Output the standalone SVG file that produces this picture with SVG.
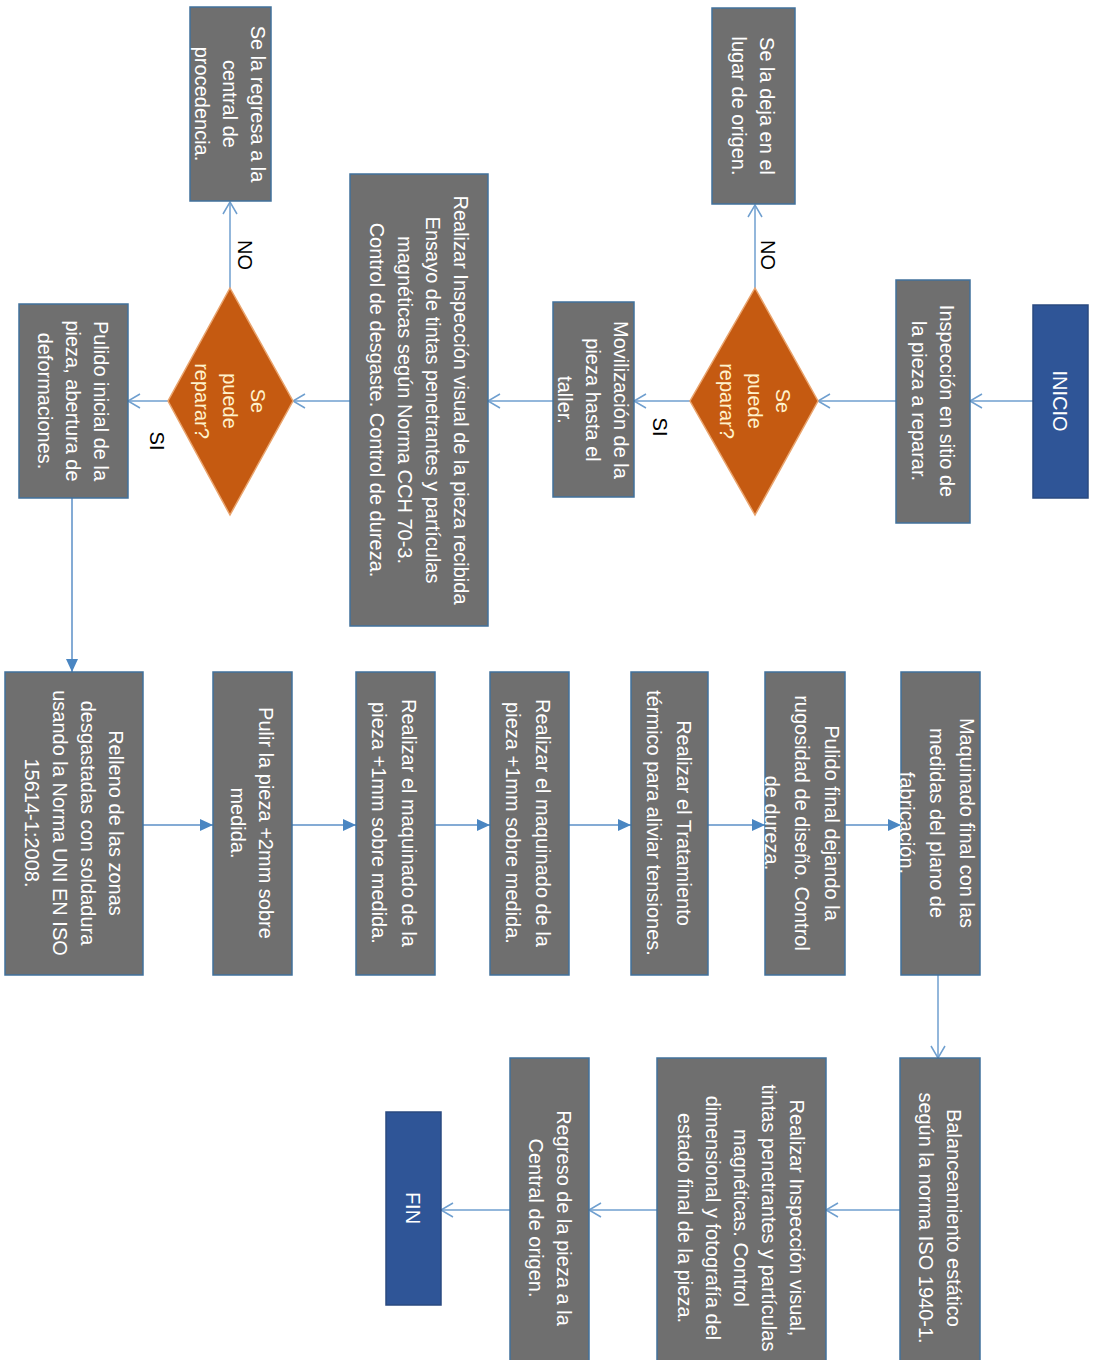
<svg xmlns="http://www.w3.org/2000/svg" width="1096" height="1360" viewBox="0 0 1096 1360">
<style>
.box{fill:#6f6f6f;stroke:#41719c;stroke-width:1.5}
.term{fill:#2f5597;stroke:#2a4a80;stroke-width:1.5}
.dia{fill:#c55a11;stroke:#e9a46e;stroke-width:1.5}
.t{font-family:"Liberation Sans",Arial,sans-serif;font-size:20px;fill:#ffffff;text-anchor:middle}
.dt{font-family:"Liberation Sans",Arial,sans-serif;font-size:20px;fill:#fff2cc;text-anchor:middle}
.lbl{font-family:"Liberation Sans",Arial,sans-serif;font-size:20px;fill:#000000;text-anchor:middle}
.c{fill:none;stroke:#6f9fcf;stroke-width:1.5}
.cf{fill:none;stroke:#5b8fc7;stroke-width:1.5}
</style>
<defs>
<marker id="open" markerWidth="16" markerHeight="16" refX="13" refY="8" orient="auto" markerUnits="userSpaceOnUse"><path d="M1,1 L13,8 L1,15" fill="none" stroke="#6f9fcf" stroke-width="1.5"/></marker>
<marker id="fill" markerWidth="16" markerHeight="16" refX="13" refY="8" orient="auto" markerUnits="userSpaceOnUse"><path d="M0,2 L13,8 L0,14 Z" fill="#4a86c2"/></marker>
</defs>
<rect width="1096" height="1360" fill="#ffffff"/>

<g id="connectors">
<path class="c" d="M1033,401 L970,401" marker-end="url(#open)"/>
<path class="c" d="M896,401 L818,401" marker-end="url(#open)"/>
<path class="c" d="M755,288 L755,205" marker-end="url(#open)"/>
<path class="c" d="M690,401 L634,401" marker-end="url(#open)"/>
<path class="c" d="M553,401 L488,401" marker-end="url(#open)"/>
<path class="c" d="M350,401 L293,401" marker-end="url(#open)"/>
<path class="c" d="M230,288 L230,202" marker-end="url(#open)"/>
<path class="c" d="M168,401 L128,401" marker-end="url(#open)"/>
<path class="cf" d="M72,498 L72,672" marker-end="url(#fill)"/>
<path class="cf" d="M143,825 L213,825" marker-end="url(#fill)"/>
<path class="cf" d="M292,825 L356,825" marker-end="url(#fill)"/>
<path class="cf" d="M435,825 L490,825" marker-end="url(#fill)"/>
<path class="cf" d="M569,825 L631,825" marker-end="url(#fill)"/>
<path class="cf" d="M708,825 L765,825" marker-end="url(#fill)"/>
<path class="cf" d="M845,825 L901,825" marker-end="url(#fill)"/>
<path class="c" d="M938,975 L938,1058" marker-end="url(#open)"/>
<path class="c" d="M900,1210 L826,1210" marker-end="url(#open)"/>
<path class="c" d="M657,1210 L589,1210" marker-end="url(#open)"/>
<path class="c" d="M510,1210 L441,1210" marker-end="url(#open)"/>
<g transform="translate(768,255) rotate(90)"><text class="lbl" x="0" y="7">NO</text></g>
<g transform="translate(245,255) rotate(90)"><text class="lbl" x="0" y="7">NO</text></g>
<g transform="translate(660,427) rotate(90)"><text class="lbl" x="0" y="7">SI</text></g>
<g transform="translate(157,441) rotate(90)"><text class="lbl" x="0" y="7">SI</text></g>
</g>

<g id="inicio">
<rect class="term" x="1033" y="305" width="55" height="193"/>
<g transform="translate(1060,401) rotate(90)"><text class="t" x="0" y="7">INICIO</text></g>
</g>

<g id="inspeccion-sitio">
<rect class="box" x="896" y="280" width="74" height="243"/>
<g transform="translate(933,401) rotate(90)"><text class="t"><tspan x="0" y="-7">Inspección en sitio de</tspan><tspan x="0" y="21">la pieza a reparar.</tspan></text></g>
</g>

<g id="decision1">
<polygon class="dia" points="755,288 818,401 755,515 690,401"/>
<g transform="translate(755,401) rotate(90)"><text class="dt"><tspan x="0" y="-21">Se</tspan><tspan x="0" y="7">puede</tspan><tspan x="0" y="35">reparar?</tspan></text></g>
</g>

<g id="deja-origen">
<rect class="box" x="712" y="8" width="83" height="196"/>
<g transform="translate(753,106) rotate(90)"><text class="t"><tspan x="0" y="-7">Se la deja en el</tspan><tspan x="0" y="21">lugar de origen.</tspan></text></g>
</g>

<g id="movilizacion">
<rect class="box" x="553" y="302" width="81" height="195"/>
<g transform="translate(593,400) rotate(90)"><text class="t"><tspan x="0" y="-21">Movilización de la</tspan><tspan x="0" y="7">pieza hasta el</tspan><tspan x="0" y="35">taller.</tspan></text></g>
</g>

<g id="inspeccion-recibida">
<rect class="box" x="350" y="174" width="138" height="452"/>
<g transform="translate(419,400) rotate(90)"><text class="t"><tspan x="0" y="-35">Realizar Inspección visual de la pieza recibida</tspan><tspan x="0" y="-7">Ensayo de tintas penetrantes y partículas</tspan><tspan x="0" y="21">magnéticas según Norma CCH 70-3.</tspan><tspan x="0" y="49">Control de desgaste. Control de dureza.</tspan></text></g>
</g>

<g id="decision2">
<polygon class="dia" points="230,288 293,401 230,515 168,401"/>
<g transform="translate(230,401) rotate(90)"><text class="dt"><tspan x="0" y="-21">Se</tspan><tspan x="0" y="7">puede</tspan><tspan x="0" y="35">reparar?</tspan></text></g>
</g>

<g id="regresa-central">
<rect class="box" x="190" y="7" width="81" height="194"/>
<g transform="translate(230,104) rotate(90)"><text class="t"><tspan x="0" y="-21">Se la regresa a la</tspan><tspan x="0" y="7">central de</tspan><tspan x="0" y="35">procedencia.</tspan></text></g>
</g>

<g id="pulido-inicial">
<rect class="box" x="19" y="304" width="109" height="194"/>
<g transform="translate(73,401) rotate(90)"><text class="t"><tspan x="0" y="-21">Pulido inicial de la</tspan><tspan x="0" y="7">pieza, abertura de</tspan><tspan x="0" y="35">deformaciones.</tspan></text></g>
</g>

<g id="relleno">
<rect class="box" x="5" y="672" width="138" height="303"/>
<g transform="translate(74,823) rotate(90)"><text class="t"><tspan x="0" y="-35">Relleno de las zonas</tspan><tspan x="0" y="-7">desgastadas con soldadura</tspan><tspan x="0" y="21">usando la Norma UNI EN ISO</tspan><tspan x="0" y="49">15614-1:2008.</tspan></text></g>
</g>

<g id="pulir">
<rect class="box" x="213" y="672" width="79" height="303"/>
<g transform="translate(252,823) rotate(90)"><text class="t"><tspan x="0" y="-7">Pulir la pieza +2mm sobre</tspan><tspan x="0" y="21">medida.</tspan></text></g>
</g>

<g id="maquinado1">
<rect class="box" x="356" y="672" width="79" height="303"/>
<g transform="translate(394,823) rotate(90)"><text class="t"><tspan x="0" y="-8">Realizar el maquinado de la</tspan><tspan x="0" y="22">pieza +1mm sobre medida.</tspan></text></g>
</g>

<g id="maquinado2">
<rect class="box" x="490" y="672" width="79" height="303"/>
<g transform="translate(528,823) rotate(90)"><text class="t"><tspan x="0" y="-8">Realizar el maquinado de la</tspan><tspan x="0" y="22">pieza +1mm sobre medida.</tspan></text></g>
</g>

<g id="tratamiento">
<rect class="box" x="631" y="672" width="77" height="303"/>
<g transform="translate(669,823) rotate(90)"><text class="t"><tspan x="0" y="-8">Realizar el Tratamiento</tspan><tspan x="0" y="22">térmico para aliviar tensiones.</tspan></text></g>
</g>

<g id="pulido-final">
<rect class="box" x="765" y="672" width="80" height="303"/>
<g transform="translate(802,823) rotate(90)"><text class="t"><tspan x="0" y="-23">Pulido final dejando la</tspan><tspan x="0" y="7">rugosidad de diseño. Control</tspan><tspan x="0" y="37">de dureza.</tspan></text></g>
</g>

<g id="maquinado-final">
<rect class="box" x="901" y="672" width="79" height="303"/>
<g transform="translate(937,823) rotate(90)"><text class="t"><tspan x="0" y="-23">Maquinado final con las</tspan><tspan x="0" y="7">medidas del plano de</tspan><tspan x="0" y="37">fabricación.</tspan></text></g>
</g>

<g id="balanceamiento">
<rect class="box" x="900" y="1058" width="80" height="310"/>
<g transform="translate(940,1218) rotate(90)"><text class="t"><tspan x="0" y="-7">Balanceamiento  estático</tspan><tspan x="0" y="21">según la norma ISO 1940-1.</tspan></text></g>
</g>

<g id="inspeccion-final">
<rect class="box" x="657" y="1058" width="169" height="310"/>
<g transform="translate(741,1218) rotate(90)"><text class="t"><tspan x="0" y="-49">Realizar Inspección visual,</tspan><tspan x="0" y="-21">tintas penetrantes y partículas</tspan><tspan x="0" y="7">magnéticas. Control</tspan><tspan x="0" y="35">dimensional y fotografía del</tspan><tspan x="0" y="63">estado final de la pieza.</tspan></text></g>
</g>

<g id="regreso">
<rect class="box" x="510" y="1058" width="79" height="310"/>
<g transform="translate(550,1218) rotate(90)"><text class="t"><tspan x="0" y="-7">Regreso de la pieza a la</tspan><tspan x="0" y="21">Central de origen.</tspan></text></g>
</g>

<g id="fin">
<rect class="term" x="386" y="1112" width="55" height="193"/>
<g transform="translate(413,1208) rotate(90)"><text class="t" x="0" y="7">FIN</text></g>
</g>
</svg>
